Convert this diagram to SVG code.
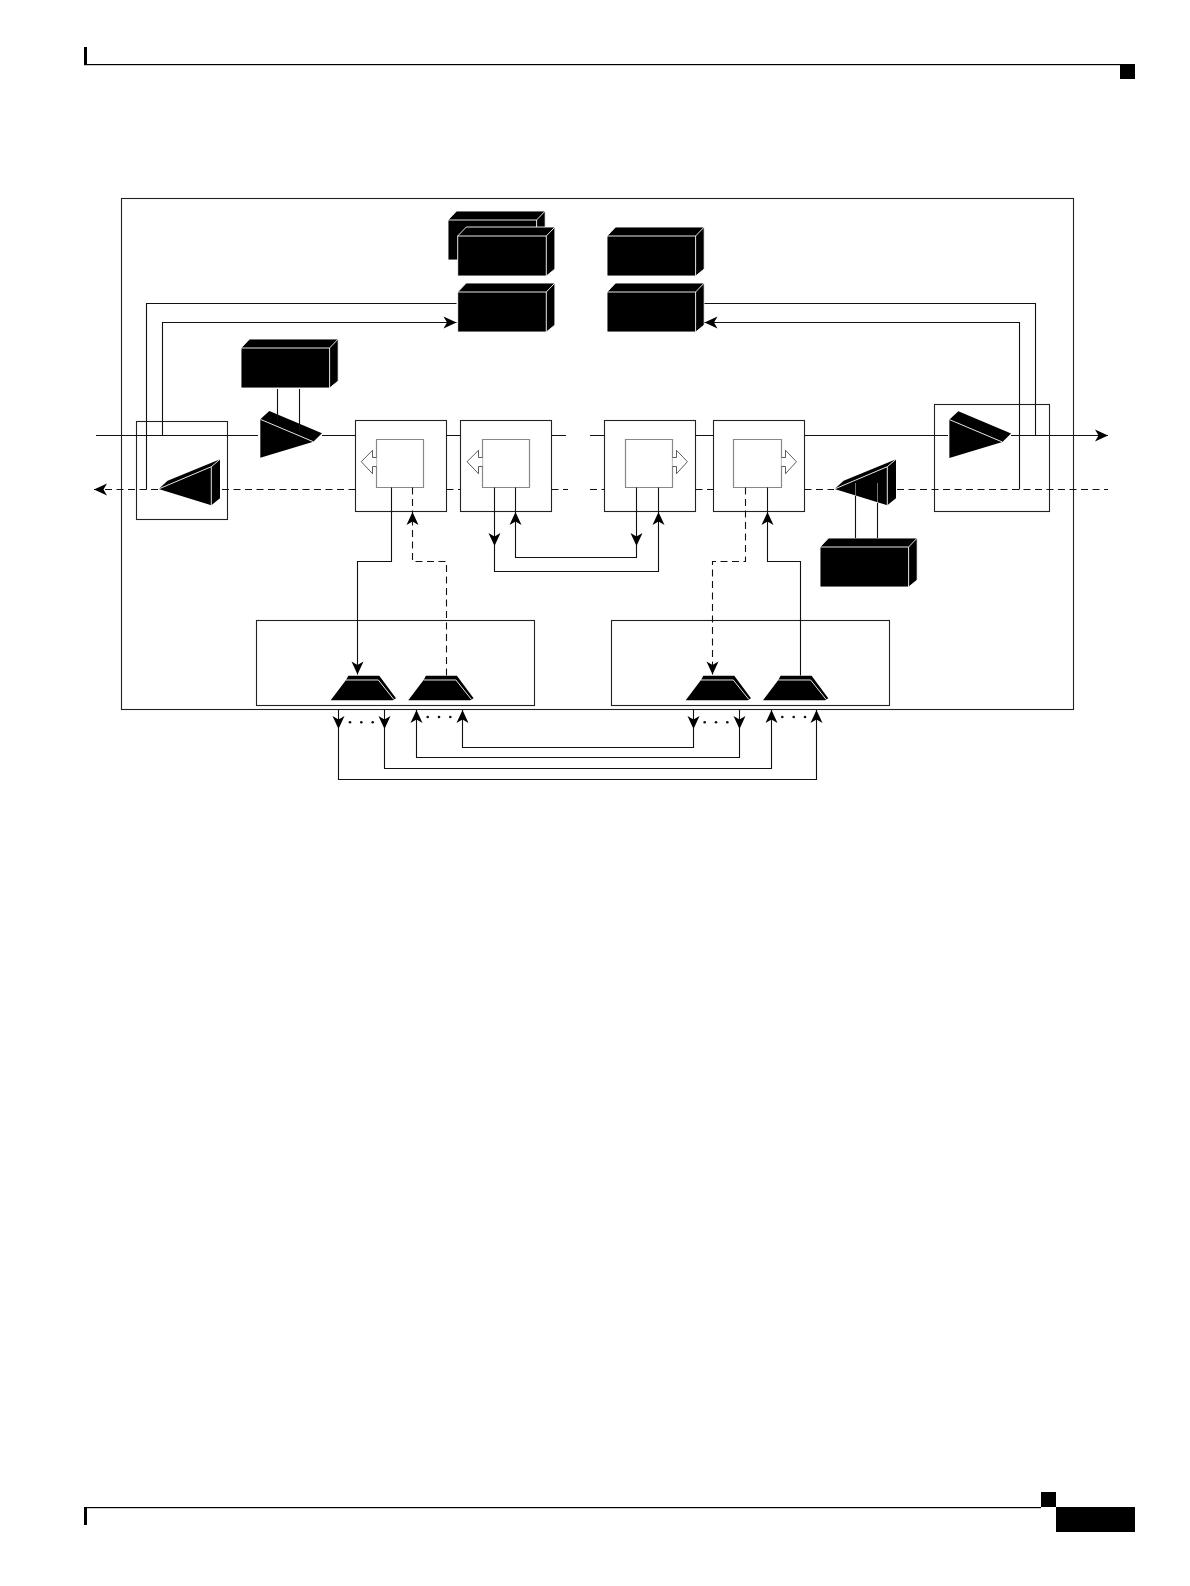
<svg xmlns="http://www.w3.org/2000/svg" xmlns:xlink="http://www.w3.org/1999/xlink" width="1190" height="1586" viewBox="0 0 1190 1586">
<style>
.l{fill:none;stroke:#111;stroke-width:1.1}
.d{fill:none;stroke:#111;stroke-width:1.1;stroke-dasharray:7 4.5}
.a{marker-end:url(#ah)}
.b{fill:none;stroke:#222;stroke-width:1.1}
.in{fill:#fff;stroke:#888;stroke-width:1.2}
.ar{fill:#fff;stroke:#333;stroke-width:.8}
.k{fill:#000;stroke:#fff;stroke-width:.9}
.w{fill:none;stroke:#fff;stroke-width:1;stroke-opacity:.9}
.f{fill:none;stroke:#fff;stroke-width:1;stroke-opacity:.45}
.dot{fill:#111}
</style>
<defs>
<marker id="ah" markerUnits="userSpaceOnUse" markerWidth="16" markerHeight="14" refX="13" refY="6" orient="auto" overflow="visible"><path d="M0 0L13 6L0 12L3.5 6Z" fill="#000"/></marker>
<g id="box"><path class="k" d="M0 0L8.6 -9H97.2V33L88.6 40H0Z"/><path class="w" d="M0 0H88.6V40M88.6 0L97.2 -9"/></g>
<g id="trap"><path d="M0 0L15.3 -20.3L17.6 -24.6H48.6L65.3 -2L62 0Z" fill="#000"/><path class="w" d="M15.3 -20.3H47.6L63 -1"/></g>
<g id="ampR"><path d="M0 0L9 -8.3L61.7 14L53 22.4L0 38.4Z" fill="#000"/><path class="w" d="M0 0L53 22.4"/></g>
<g id="ampL"><path d="M0 0L9 -8.3L61.4 -29.7V9.3L52.7 16.3Z" fill="#000"/><path class="w" d="M0 0L52.7 -22.3V16.3M52.7 -22.3L61.4 -29.7"/></g>
</defs>
<rect width="1190" height="1586" fill="#fff"/>
<g id="page-frame">
<rect x="84" y="47" width="3" height="18"/><rect x="84" y="64" width="1036" height="1.2"/><rect x="1120" y="64" width="15" height="15"/>
<rect x="84" y="1507" width="957" height="1.2"/><rect x="84" y="1507" width="3" height="18"/><rect x="1041" y="1492" width="15" height="15"/><rect x="1056" y="1507" width="79" height="25"/>
</g>
<g id="chassis"><rect class="b" x="121.5" y="198.5" width="952" height="511"/></g>
<g id="left-box"><rect class="b" x="136.5" y="421.5" width="91" height="98"/></g>
<g id="right-box"><rect class="b" x="934.5" y="404.5" width="115" height="107"/></g>
<g id="module-1"><rect class="b" x="355.5" y="420.5" width="91" height="91"/><path class="in" d="M376.5 439.5H423.5V487.5H376.5Z"/><path class="ar" d="M376.5 466.5H372.5V473.7L361.3 461.7L372.5 450.3V457.5H376.5"/></g>
<g id="module-2"><rect class="b" x="460.5" y="420.5" width="91" height="91"/><path class="in" d="M482.5 439.5H529.5V487.5H482.5Z"/><path class="ar" d="M482.5 466.5H478.5V473.7L467 461.7L478.5 450.3V457.5H482.5"/></g>
<g id="module-3"><rect class="b" x="604.5" y="420.5" width="91" height="91"/><path class="in" d="M625.5 439.5H672.5V487.5H625.5Z"/><path class="ar" d="M672.5 457.5H676.5V450.3L687.4 461.7L676.5 473.7V466.5H672.5"/></g>
<g id="module-4"><rect class="b" x="713.5" y="420.5" width="91" height="91"/><path class="in" d="M733.5 439.5H781.5V487.5H733.5Z"/><path class="ar" d="M781.5 457.5H785.5V450.3L796.4 461.7L785.5 473.7V466.5H781.5"/></g>
<g id="panel-left"><rect class="b" x="256.5" y="620.5" width="278" height="85"/></g>
<g id="panel-right"><rect class="b" x="611.5" y="620.5" width="278" height="85"/></g>
<g id="box-back"><use xlink:href="#box" href="#box" x="448" y="220"/></g>
<g id="box-front-left"><use xlink:href="#box" href="#box" x="457.7" y="236"/></g>
<g id="box-lower-left"><use xlink:href="#box" href="#box" x="457.7" y="292"/></g>
<g id="box-front-right"><use xlink:href="#box" href="#box" x="607" y="236"/></g>
<g id="box-lower-right"><use xlink:href="#box" href="#box" x="607" y="292"/></g>
<g id="box-pump-in"><use xlink:href="#box" href="#box" x="241" y="348"/></g>
<g id="box-pump-out"><use xlink:href="#box" href="#box" x="820" y="547"/></g>
<g id="amp-1"><use xlink:href="#ampR" href="#ampR" x="260.3" y="419.3"/></g>
<g id="amp-2"><use xlink:href="#ampR" href="#ampR" x="949.4" y="419.6"/></g>
<g id="amp-3"><use xlink:href="#ampL" href="#ampL" x="158.6" y="489"/></g>
<g id="amp-4"><use xlink:href="#ampL" href="#ampL" x="834.6" y="489"/></g>
<g id="mux-1"><use xlink:href="#trap" href="#trap" x="330.7" y="700.3"/></g>
<g id="mux-2"><use xlink:href="#trap" href="#trap" x="408.3" y="700.3"/></g>
<g id="mux-3"><use xlink:href="#trap" href="#trap" x="685.7" y="700.3"/></g>
<g id="mux-4"><use xlink:href="#trap" href="#trap" x="763" y="700.3"/></g>
<g id="connectors">
<path class="l" d="M96 435.5H258M322 435.5H355.5M446.5 435.5H460.5M551.5 435.5H566M590 435.5H604.5M695.5 435.5H713.5M804.5 435.5H948"/>
<path class="l a" d="M1011 435.5H1108"/>
<path class="d a" d="M158 489.5H94"/>
<path class="d" d="M222 489.5H355.5M446.5 489.5H460.5M551.5 489.5H568M590 489.5H604.5M695.5 489.5H713.5M804.5 489.5H834M897 489.5H1108"/>
<path class="l" d="M456.5 303.5H146.5V489.5"/>
<path class="l a" d="M162.5 435.5V322.5H456.5"/>
<path class="l" d="M704.5 303.5H1035.5V435.5"/>
<path class="l a" d="M1019.5 489.5V322.5H704.5"/>
<path class="l" d="M277.5 389V421M299.5 389V431"/>
<path class="l" d="M855.5 496V538M877.5 503V538"/>
<path class="f" d="M855.5 483V495M877.5 483V502"/>
<path class="l a" d="M391.5 487.5V561.5H357.5V674.5"/>
<path class="d a" d="M446.5 675.5V561.5H412.5V512"/>
<path class="d" d="M412.5 487.5V512"/>
<path class="l a" d="M494.5 487.5V546"/>
<path class="l a" d="M494.5 546V571.5H658.5V512"/>
<path class="l" d="M658.5 512V487.5"/>
<path class="l a" d="M636.5 487.5V546"/>
<path class="l a" d="M636.5 546V557.5H515.5V512"/>
<path class="l" d="M515.5 512V487.5"/>
<path class="d a" d="M745.5 487.5V561.5H712.5V674.5"/>
<path class="l a" d="M800.5 675.5V561.5H767.5V512"/>
<path class="l" d="M767.5 512V487.5"/>
<path class="l a" d="M338.5 709.5V729"/>
<path class="l a" d="M384.5 709.5V729"/>
<path class="l a" d="M693.5 709.5V729"/>
<path class="l a" d="M739.5 709.5V729"/>
<path class="l a" d="M693.5 729V747.5H462.5V710"/>
<path class="l a" d="M739.5 729V757.5H416.5V710"/>
<path class="l a" d="M384.5 729V768.5H771.5V710"/>
<path class="l a" d="M338.5 729V779.5H816.5V710"/>
<g class="dot">
<circle cx="350" cy="722.3" r="1.3"/><circle cx="361.3" cy="722.3" r="1.3"/><circle cx="372.7" cy="722.3" r="1.3"/>
<circle cx="427.7" cy="717" r="1.3"/><circle cx="439" cy="717" r="1.3"/><circle cx="450.3" cy="717" r="1.3"/>
<circle cx="704.7" cy="722.3" r="1.3"/><circle cx="716" cy="722.3" r="1.3"/><circle cx="727.3" cy="722.3" r="1.3"/>
<circle cx="782.3" cy="717" r="1.3"/><circle cx="793.7" cy="717" r="1.3"/><circle cx="805" cy="717" r="1.3"/>
</g>
</g>
</svg>
